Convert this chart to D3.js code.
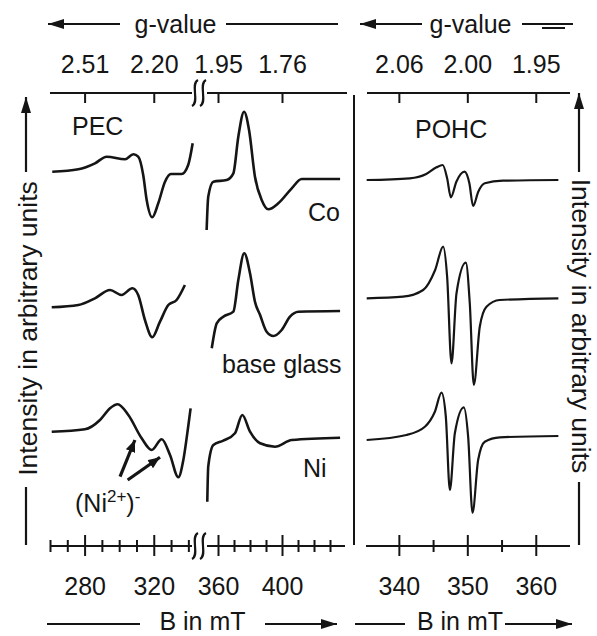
<!DOCTYPE html>
<html>
<head>
<meta charset="utf-8">
<script src="https://cdn.jsdelivr.net/npm/d3@7"></script>
<style>
  body { margin: 0; background: #fff; }
</style>
</head>
<body>
<script>
// ---- data (B in mT, intensity in arbitrary units) ----
const rows = ["Co", "base glass", "Ni"]

// PEC, low field part (left of the axis break)
const coLow = [[261.3,8.3],[276.4,10.7],[286.0,16.7],[292.8,23.3],[303.4,20.7],[308.2,25.7],[311.0,23.3],[313.9,5],[315.9,-20],[319.1,-37.3],[322.6,-23.3],[326.5,-1.7],[329.9,6],[336.1,6],[339.9,15],[342.5,36.7]]
const baseLow = [[261.0,3.7],[276.4,6],[286.0,12.7],[294.7,21],[301.4,16],[307.6,22.7],[311.0,16],[314.9,-9],[319.1,-26.3],[323.6,-10.7],[328.4,6],[333.2,11],[338.0,26]]
const niLow = [[261.0,6.3],[280.2,8.7],[288.9,18],[294.7,29.7],[299.1,33.7],[305.3,23],[313.0,-0.3],[318.8,-12],[324.6,-1.3],[329.4,-17],[334.2,-39.3],[337.1,-22],[339.9,11.3],[341.3,29.7]]

// PEC, high field part (right of the axis break)
const coHigh = [[352.9,-50],[353.9,-16.7],[357.1,-1.7],[365.4,0],[369.6,6.7],[372.7,43.3],[376.3,68.3],[379.4,50],[383.1,3.3],[387.3,-20],[391.4,-29.3],[397.7,-23.3],[406.1,-8.3],[412.3,1],[436.3,1]]
const baseHigh = [[356.1,-37.3],[359.2,-12.3],[363.3,-5.7],[369.6,-0.7],[372.7,31],[376.4,57.7],[380.0,37.7],[383.1,9.3],[386.3,-4],[390.4,-20.7],[394.6,-25],[399.8,-19],[405.0,-5.7],[410.2,-0.7],[436.3,0]]
const niHigh = [[353.3,-63.7],[353.9,-28.7],[357.1,-7],[363.3,-2.7],[370.6,4.7],[375.2,23],[380.0,6.3],[386.3,-5.3],[395.6,-8.7],[406.1,-2],[436.3,0.3]]

// POHC
const coPohc = [[335.3,0],[341.6,1.7],[344.0,6],[345.5,12.7],[346.4,15],[347.05,1.7],[347.6,-17.3],[348.4,-1.7],[349.6,8.3],[350.3,-3.3],[350.85,-26],[351.6,-11.7],[352.55,-3.3],[355.2,-0.7],[363.3,0]]
const basePohc = [[335.3,-0.3],[340.6,1.3],[343.55,8],[345.3,28],[346.47,51.3],[347.05,21.3],[347.69,-65.3],[348.42,4.7],[349.78,35.3],[350.36,-5.3],[350.95,-87],[351.82,-28.7],[352.8,-8.7],[354.74,-2],[363.3,-0.3]]
const niPohc = [[335.3,-3],[341.1,2],[343.8,10.3],[345.26,25.3],[346.23,44.3],[346.86,20.3],[347.45,-53],[348.18,3.7],[349.49,29.7],[350.12,0.3],[350.76,-75.7],[351.58,-23],[352.55,-4.7],[354.74,-0.3],[363.3,1]]

const pecOffset = [365, 234, 107]
const pohcOffset = [365, 247, 108]

// ticks
const lowTicks = [260,270,280,290,300,310,320,330,340]
const highTicks = [360,370,380,390,400,410,420,430]
const pecMajor = [280,320,360,400]
const pohcTicks = [340,345,350,355,360]
const pohcMajor = [340,350,360]
const gLeftLabels = ["2.51","2.20","1.95","1.76"]
const gLeftField = [280,320,360,400]
const gRightLabels = ["2.06","2.00","1.95"]
const gRightField = [340,350,360]

// annotation arrows for (Ni2+)- : [B, intensity] tail -> tip, Ni row
const niArrows = [[[300.5,-38.7],[309.1,-2]],[[304.9,-42],[323.6,-19.3]]]

const FONT = "'Liberation Sans', Arial, sans-serif"
const INK = "#151515"

var svg = d3.select("body").append("svg")
    .attr("width", 597)
    .attr("height", 636)
    .style("font-family", FONT)

var defs = svg.append("defs")
defs.append("marker").attr("id", "ah")
    .attr("viewBox", "0 0 16 10").attr("refX", 16).attr("refY", 5)
    .attr("markerWidth", 16).attr("markerHeight", 10)
    .attr("markerUnits", "userSpaceOnUse").attr("orient", "auto")
  .append("path").attr("d", "M0,0 L16,5 L0,10 Z").attr("fill", INK)
defs.append("marker").attr("id", "ah2")
    .attr("viewBox", "0 0 12 10").attr("refX", 12).attr("refY", 5)
    .attr("markerWidth", 12).attr("markerHeight", 10)
    .attr("markerUnits", "userSpaceOnUse").attr("orient", "auto")
  .append("path").attr("d", "M0,0 L12,5 L0,10 Z").attr("fill", INK)

// scales
var xLo = d3.scaleLinear().domain([260, 345]).range([50, 197])
var xHi = d3.scaleLinear().domain([350, 440]).range([202, 346])
var xP = d3.scaleLinear().domain([335.2, 365]).range([366, 570])
var y = d3.scaleLinear().domain([0, 450]).range([545, 95])

const topY = 93, botY = 546

function styleAxis(g) {
  g.select(".domain").remove()
  g.attr("font-size", 25).attr("font-family", FONT)
  g.selectAll("text").attr("fill", INK)
  g.selectAll(".tick line").attr("stroke", INK).attr("stroke-width", 2)
}

// bottom axes with ticks crossing the line
function bottomAxis(scale, ticks, major) {
  var g = svg.append("g").attr("transform", "translate(0," + botY + ")")
    .call(d3.axisBottom(scale).tickValues(ticks).tickSize(10).tickPadding(21)
      .tickFormat(d => major.includes(d) ? d : ""))
  styleAxis(g)
  g.selectAll(".tick line")
    .attr("y1", d => major.includes(d) ? -11 : -6)
    .attr("y2", d => major.includes(d) ? 10 : 6)
  return g
}
bottomAxis(xLo, lowTicks, pecMajor)
bottomAxis(xHi, highTicks, pecMajor)
bottomAxis(xP, pohcTicks, pohcMajor)

// top g-value axes, ticks hanging down
function topAxis(scale, fields, labels) {
  var g = svg.append("g").attr("transform", "translate(0," + topY + ")")
    .call(d3.axisTop(scale).tickValues(fields).tickSizeInner(-10).tickSizeOuter(0).tickPadding(20)
      .tickFormat(d => labels[fields.indexOf(d)]))
  styleAxis(g)
}
topAxis(xLo, gLeftField.slice(0, 2), gLeftLabels.slice(0, 2))
topAxis(xHi, gLeftField.slice(2), gLeftLabels.slice(2))
topAxis(xP, gRightField, gRightLabels)

// axis lines
function hline(x1, x2, yy, w) {
  svg.append("line").attr("x1", x1).attr("x2", x2).attr("y1", yy).attr("y2", yy)
    .attr("stroke", INK).attr("stroke-width", w || 2)
}
hline(50, 192, topY); hline(207, 347, topY)
hline(50, 192, botY); hline(207, 345, botY)
hline(367, 570, topY); hline(366, 570, botY)

// axis break marks
function breakMark(x, yy) {
  [x - 4, x + 4].forEach(function(bx) {
    svg.append("path")
      .attr("d", "M" + (bx + 3) + "," + (yy - 13) + " C" + (bx - 5) + "," + (yy - 9) + " " + (bx + 5) + "," + (yy + 9) + " " + (bx - 3) + "," + (yy + 13))
      .attr("fill", "none").attr("stroke", INK).attr("stroke-width", 2.2)
  })
}
breakMark(199, topY)
breakMark(199, botY)

// panel divider
svg.append("line").attr("x1", 354).attr("x2", 354).attr("y1", 95).attr("y2", 545)
  .attr("stroke", INK).attr("stroke-width", 2)

// spectra
function drawSpectrum(data, xs, off, w) {
  var line = d3.line()
    .x(d => xs(d[0]))
    .y(d => y(off + d[1]))
    .curve(d3.curveMonotoneX)
  svg.append("path").datum(data)
    .attr("d", line)
    .attr("fill", "none").attr("stroke", INK)
    .attr("stroke-width", w).attr("stroke-linejoin", "round")
}
;[coLow, baseLow, niLow].forEach((s, i) => drawSpectrum(s, xLo, pecOffset[i], 2.6))
;[coHigh, baseHigh, niHigh].forEach((s, i) => drawSpectrum(s, xHi, pecOffset[i], 2.6))
;[coPohc, basePohc, niPohc].forEach((s, i) => drawSpectrum(s, xP, pohcOffset[i], 2.2))

// (Ni2+)- arrows
niArrows.forEach(function(a) {
  svg.append("line")
    .attr("x1", xLo(a[0][0])).attr("y1", y(pecOffset[2] + a[0][1]))
    .attr("x2", xLo(a[1][0])).attr("y2", y(pecOffset[2] + a[1][1]))
    .attr("stroke", INK).attr("stroke-width", 3.2)
    .attr("marker-end", "url(#ah2)")
})

// labels
function label(x, yy, t, anchor) {
  return svg.append("text").attr("x", x).attr("y", yy)
    .attr("font-size", 25).attr("fill", INK)
    .attr("text-anchor", anchor || "start").text(t)
}
label(72, 135, "PEC")
label(415, 138, "POHC")
label(308, 221, rows[0])
label(222, 373, rows[1])
label(303, 477, rows[2])

var ni = svg.append("text").attr("x", 75).attr("y", 512)
  .attr("font-size", 25).attr("fill", INK)
ni.append("tspan").text("(Ni")
ni.append("tspan").attr("font-size", 17).attr("dy", -10).text("2+")
ni.append("tspan").attr("dy", 10).text(")")
ni.append("tspan").attr("font-size", 17).attr("dy", -10).text("-")

// header / footer arrows
function arrow(x1, x2, yy) {
  svg.append("line").attr("x1", x1).attr("x2", x2).attr("y1", yy).attr("y2", yy)
    .attr("stroke", INK).attr("stroke-width", 2.2).attr("marker-end", "url(#ah)")
}
arrow(120, 48, 24); hline(226, 338, 24, 2.2)
label(175.5, 33, "g-value", "middle")
arrow(422, 360, 24); hline(522, 573, 24, 2.2); hline(542, 565, 28, 2)
label(470.5, 33, "g-value", "middle")

hline(47, 140, 624, 2.2); arrow(265, 337, 624)
label(202.5, 630, "B in mT", "middle")
hline(355, 405, 624, 2.2); arrow(505, 572, 624)
label(460, 630, "B in mT", "middle")

// vertical intensity labels
svg.append("text").attr("transform", "translate(37,328.5) rotate(-90)")
  .attr("text-anchor", "middle").attr("font-size", 26.5).attr("fill", INK)
  .text("Intensity in arbitrary units")
svg.append("line").attr("x1", 26).attr("x2", 26).attr("y1", 172).attr("y2", 97)
  .attr("stroke", INK).attr("stroke-width", 2.2).attr("marker-end", "url(#ah)")
svg.append("line").attr("x1", 26).attr("x2", 26).attr("y1", 487).attr("y2", 545)
  .attr("stroke", INK).attr("stroke-width", 2.2)

svg.append("text").attr("transform", "translate(572,326) rotate(90)")
  .attr("text-anchor", "middle").attr("font-size", 26.5).attr("fill", INK)
  .text("Intensity in arbitrary units")
svg.append("line").attr("x1", 579).attr("x2", 579).attr("y1", 172).attr("y2", 93)
  .attr("stroke", INK).attr("stroke-width", 2.2).attr("marker-end", "url(#ah)")
svg.append("line").attr("x1", 579).attr("x2", 579).attr("y1", 482).attr("y2", 545)
  .attr("stroke", INK).attr("stroke-width", 2.2)
</script>
</body>
</html>
